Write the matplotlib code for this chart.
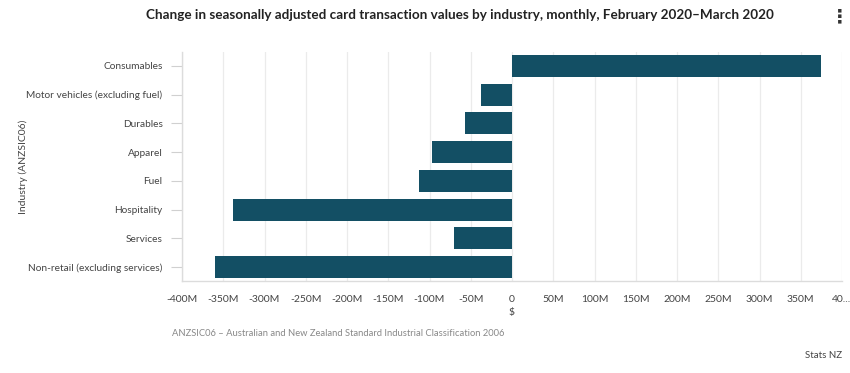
import numpy as np
import matplotlib.pyplot as plt
from matplotlib.ticker import FuncFormatter

plt.rcParams['font.family'] = ['Lato', 'DejaVu Sans']

industries = ['Consumables', 'Motor vehicles (excluding fuel)', 'Durables', 'Apparel',
              'Fuel', 'Hospitality', 'Services', 'Non-retail (excluding services)']
change_m = [375, -38, -57, -97, -113, -338, -70, -360]

bar_color = '#134f64'
grid_color = '#ebebeb'

fig = plt.figure(figsize=(8.5, 3.73), dpi=100)
ax = fig.add_axes([182 / 850, 1 - 281.4 / 373, 660 / 850, 229.8 / 373])

y = np.arange(len(industries))
ax.barh(y, np.array(change_m) * 1e6, height=0.77, color=bar_color, zorder=3)
ax.set_yticks(y)
ax.set_yticklabels(industries)
ax.set_ylim(len(industries) - 0.5, -0.5)

ax.set_xlim(-400e6, 400e6)
ax.set_xticks(np.arange(-400e6, 400e6 + 1, 50e6))


def fmt(v, pos):
    m = int(round(v / 1e6))
    if m == 0:
        return '0'
    if m == 400:
        return '40...'
    return f'{m}M'


ax.xaxis.set_major_formatter(FuncFormatter(fmt))
ax.grid(axis='x', color=grid_color, linewidth=0.9, zorder=0)

for s in ['top', 'right']:
    ax.spines[s].set_visible(False)
for s in ['left', 'bottom']:
    ax.spines[s].set_color('#dcdcdc')
    ax.spines[s].set_linewidth(1)

ax.tick_params(axis='y', length=8, color='#d0d0d0', labelsize=7.3,
               labelcolor='#444444', pad=6)
ax.tick_params(axis='x', length=0, labelsize=7.5, labelcolor='#444444', pad=10)

ax.set_xlabel('$', fontsize=7.5, color='#444444', labelpad=3)
ax.set_ylabel('Industry (ANZSIC06)', fontsize=7.5, color='#444444')
ax.yaxis.set_label_coords(-0.233, 0.5)

fig.text(460 / 850, 1 - 15 / 373, 'Change in seasonally adjusted card transaction values by industry, '
         'monthly, February 2020\u2013March 2020', ha='center', va='center',
         fontsize=9.7, fontweight='bold', color='#222222')
fig.text(840 / 850, 1 - 17 / 373, '\u22ee', ha='center', va='center', fontsize=14,
         fontweight='bold', color='#333333', family=['DejaVu Sans'])
fig.text(172 / 850, 1 - 334 / 373,
         'ANZSIC06 \u2013 Australian and New Zealand Standard Industrial Classification 2006',
         ha='left', va='center', fontsize=6.75, color='#888888')
fig.text(842 / 850, 1 - 355 / 373, 'Stats NZ', ha='right', va='center',
         fontsize=7, color='#444444')

fig.savefig('out.png', dpi=100)
